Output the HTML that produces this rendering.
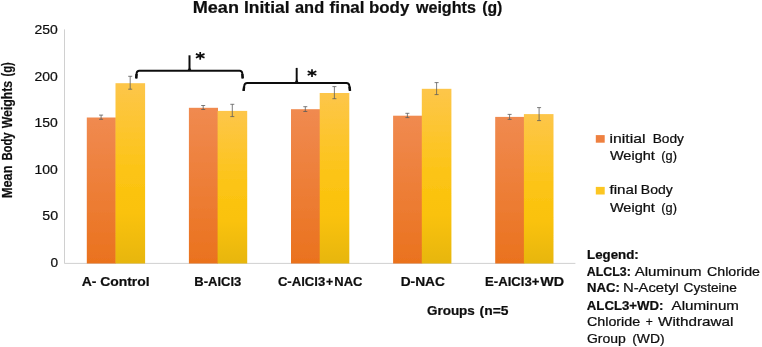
<!DOCTYPE html>
<html><head><meta charset="utf-8">
<style>
html,body{margin:0;padding:0;background:#fff;}
body{width:762px;height:347px;overflow:hidden;font-family:"Liberation Sans",sans-serif;}
svg{display:block;}
text{font-family:"Liberation Sans",sans-serif;fill:#0c0c0c;stroke:#0c0c0c;stroke-width:0.2px;}
.b{font-weight:bold;}
</style></head><body>
<svg width="762" height="347" viewBox="0 0 762 347">
<defs>
<linearGradient id="go" x1="0" y1="0" x2="0" y2="1">
<stop offset="0" stop-color="#f08a50"/><stop offset="1" stop-color="#ea721e"/>
</linearGradient>
<linearGradient id="gy" x1="0" y1="0" x2="0" y2="1">
<stop offset="0" stop-color="#fdc64a"/><stop offset="0.5" stop-color="#fcc414"/><stop offset="0.72" stop-color="#fac20c"/><stop offset="1" stop-color="#e7b60e"/>
</linearGradient>
<filter id="bl"><feGaussianBlur stdDeviation="0.45"/></filter>
</defs>
<rect width="762" height="347" fill="#fff"/>
<g filter="url(#bl)">
<!-- axes -->
<line x1="64.5" y1="29.4" x2="64.5" y2="263.5" stroke="#d0d0d0" stroke-width="1"/>
<line x1="64.5" y1="263.4" x2="575.4" y2="263.4" stroke="#d0d0d0" stroke-width="1"/>
<!-- bars -->
<g>
<rect x="86.8" y="117.5" width="29.1" height="146" fill="url(#go)"/>
<rect x="115.5" y="83.2" width="29.6" height="180.3" fill="url(#gy)"/>
<rect x="188.9" y="107.8" width="29.1" height="155.7" fill="url(#go)"/>
<rect x="217.6" y="110.9" width="29.6" height="152.6" fill="url(#gy)"/>
<rect x="291" y="109.2" width="29.1" height="154.3" fill="url(#go)"/>
<rect x="319.7" y="93" width="29.6" height="170.5" fill="url(#gy)"/>
<rect x="393.1" y="115.7" width="29.1" height="147.8" fill="url(#go)"/>
<rect x="421.8" y="88.8" width="29.6" height="174.7" fill="url(#gy)"/>
<rect x="495.2" y="116.9" width="29.1" height="146.6" fill="url(#go)"/>
<rect x="523.9" y="114.1" width="29.6" height="149.4" fill="url(#gy)"/>
</g>
<!-- error bars -->
<g stroke="#5c5c5c" stroke-width="0.8" fill="none">
<path d="M101.1 115.1V119.3M99.1 115.1h4.0M99.1 119.3h4.0"/>
<path d="M130.2 76.3V89.2M128.2 76.3h4.0M128.2 89.2h4.0"/>
<path d="M203.2 105.5V109.5M201.2 105.5h4.0M201.2 109.5h4.0"/>
<path d="M232.3 104.3V116.6M230.3 104.3h4.0M230.3 116.6h4.0"/>
<path d="M305.3 106.7V111.5M303.3 106.7h4.0M303.3 111.5h4.0"/>
<path d="M334.4 86.6V98.7M332.4 86.6h4.0M332.4 98.7h4.0"/>
<path d="M407.4 113.3V117.6M405.4 113.3h4.0M405.4 117.6h4.0"/>
<path d="M436.6 82.6V94.6M434.6 82.6h4.0M434.6 94.6h4.0"/>
<path d="M509.6 114.4V119.4M507.6 114.4h4.0M507.6 119.4h4.0"/>
<path d="M539.1 107.6V120.6M537.1 107.6h4.0M537.1 120.6h4.0"/>
</g>
<!-- brackets -->
<g stroke="#0c0c0c" stroke-width="1.95" fill="none" stroke-linecap="butt" stroke-linejoin="round">
<path d="M136.2 78.3L136.6 73.4Q136.8 70.7 139.3 70.7H239.6Q242.1 70.7 242.3 73.4L242.7 78.3"/>
<path d="M189.5 70.7V55.3"/>
<path d="M243.6 90.8L244.2 86Q244.5 82.9 247.2 82.9H346.4Q349.1 82.9 349.4 86L350 90.8"/>
<path d="M296.7 82.9V67.9"/>
</g>
<g stroke="#0c0c0c" stroke-width="2.4" fill="none" stroke-linecap="butt">
<path d="M136.2 78.3L136.55 74"/><path d="M242.7 78.3L242.35 74"/>
<path d="M243.6 90.8L244.1 86.6"/><path d="M350 90.8L349.5 86.6"/>
</g>
<g fill="#0c0c0c" stroke="none">
<path d="M186.5 70.7Q189 70 189.5 65Q190 70 192.5 70.7Z"/>
<path d="M293.7 82.9Q296.2 82.2 296.7 77Q297.2 82.2 299.7 82.9Z"/>
</g>
<!-- asterisks -->
<g stroke="#111" stroke-width="1.7" stroke-linecap="butt">
<path d="M200.2 51.9V59.7M195.9 53.9L204.5 57.7M195.9 57.7L204.5 53.9"/>
<path d="M312 69.2V77.0M307.7 71.2L316.3 75.0M307.7 75.0L316.3 71.2"/>
</g>
<!-- legend -->
<rect x="595.8" y="135.1" width="8.9" height="7.6" fill="#ee8040"/>
<rect x="595.8" y="186.9" width="8.9" height="7.6" fill="#fcc620"/>
<text class="b" x="192.76" y="12.55" font-size="15.8" textLength="46.19" lengthAdjust="spacingAndGlyphs">Mean</text>
<text class="b" x="244.00" y="12.55" font-size="15.8" textLength="45.53" lengthAdjust="spacingAndGlyphs">Initial</text>
<text class="b" x="295.00" y="12.55" font-size="15.8" textLength="29.17" lengthAdjust="spacingAndGlyphs">and</text>
<text class="b" x="329.60" y="12.55" font-size="15.8" textLength="34.82" lengthAdjust="spacingAndGlyphs">final</text>
<text class="b" x="369.03" y="12.55" font-size="15.8" textLength="40.24" lengthAdjust="spacingAndGlyphs">body</text>
<text class="b" x="415.92" y="12.55" font-size="15.8" textLength="59.96" lengthAdjust="spacingAndGlyphs">weights</text>
<text class="b" x="482.20" y="12.55" font-size="15.8" textLength="20.16" lengthAdjust="spacingAndGlyphs">(g)</text>
<text x="34.40" y="34.1" font-size="12.4" textLength="23.28" lengthAdjust="spacingAndGlyphs">250</text>
<text x="34.40" y="80.6" font-size="12.4" textLength="23.28" lengthAdjust="spacingAndGlyphs">200</text>
<text x="34.40" y="127.1" font-size="12.4" textLength="23.28" lengthAdjust="spacingAndGlyphs">150</text>
<text x="34.40" y="173.7" font-size="12.4" textLength="23.28" lengthAdjust="spacingAndGlyphs">100</text>
<text x="42.30" y="220.2" font-size="12.4" textLength="15.78" lengthAdjust="spacingAndGlyphs">50</text>
<text x="50.50" y="266.8" font-size="12.4" textLength="7.58" lengthAdjust="spacingAndGlyphs">0</text>
<text class="b" x="81.70" y="285.7" font-size="12.9" textLength="14.72" lengthAdjust="spacingAndGlyphs">A-</text>
<text class="b" x="100.20" y="285.7" font-size="12.9" textLength="49.43" lengthAdjust="spacingAndGlyphs">Control</text>
<text class="b" x="194.30" y="285.7" font-size="12.9" textLength="46.97" lengthAdjust="spacingAndGlyphs">B-AlCl3</text>
<text class="b" x="277.90" y="285.7" font-size="12.9" textLength="47.37" lengthAdjust="spacingAndGlyphs">C-AlCl3</text>
<text class="b" x="326.00" y="285.7" font-size="12.9" textLength="7.21" lengthAdjust="spacingAndGlyphs">+</text>
<text class="b" x="334.30" y="285.7" font-size="12.9" textLength="28.21" lengthAdjust="spacingAndGlyphs">NAC</text>
<text class="b" x="400.70" y="285.7" font-size="12.9" textLength="44.23" lengthAdjust="spacingAndGlyphs">D-NAC</text>
<text class="b" x="485.10" y="285.7" font-size="12.9" textLength="54.34" lengthAdjust="spacingAndGlyphs">E-AlCl3+</text>
<text class="b" x="540.20" y="285.7" font-size="12.9" textLength="23.84" lengthAdjust="spacingAndGlyphs">WD</text>
<text class="b" x="426.90" y="314.8" font-size="12.9" textLength="47.98" lengthAdjust="spacingAndGlyphs">Groups</text>
<text class="b" x="479.60" y="314.8" font-size="12.9" textLength="28.88" lengthAdjust="spacingAndGlyphs">(n=5</text>
<text x="609.50" y="142.7" font-size="12.2" textLength="35.92" lengthAdjust="spacingAndGlyphs">initial</text>
<text x="652.67" y="142.7" font-size="12.2" textLength="31.31" lengthAdjust="spacingAndGlyphs">Body</text>
<text x="609.90" y="159.8" font-size="12.2" textLength="44.97" lengthAdjust="spacingAndGlyphs">Weight</text>
<text x="661.30" y="159.8" font-size="12.2" textLength="15.66" lengthAdjust="spacingAndGlyphs">(g)</text>
<text x="609.50" y="194.3" font-size="12.2" textLength="27.78" lengthAdjust="spacingAndGlyphs">final</text>
<text x="640.85" y="194.3" font-size="12.2" textLength="31.91" lengthAdjust="spacingAndGlyphs">Body</text>
<text x="609.90" y="211.5" font-size="12.2" textLength="44.97" lengthAdjust="spacingAndGlyphs">Weight</text>
<text x="661.30" y="211.5" font-size="12.2" textLength="15.66" lengthAdjust="spacingAndGlyphs">(g)</text>
<text class="b" x="587.00" y="258.5" font-size="12.2" textLength="51.76" lengthAdjust="spacingAndGlyphs">Legend:</text>
<text class="b" x="586.80" y="275.6" font-size="12.2" textLength="43.97" lengthAdjust="spacingAndGlyphs">ALCL3:</text>
<text x="634.70" y="275.6" font-size="12.2" textLength="66.89" lengthAdjust="spacingAndGlyphs">Aluminum</text>
<text x="707.00" y="275.6" font-size="12.2" textLength="52.94" lengthAdjust="spacingAndGlyphs">Chloride</text>
<text class="b" x="587.00" y="292.4" font-size="12.2" textLength="32.84" lengthAdjust="spacingAndGlyphs">NAC:</text>
<text x="622.99" y="292.4" font-size="12.2" textLength="55.87" lengthAdjust="spacingAndGlyphs">N-Acetyl</text>
<text x="683.60" y="292.4" font-size="12.2" textLength="53.25" lengthAdjust="spacingAndGlyphs">Cysteine</text>
<text class="b" x="586.80" y="309.5" font-size="12.2" textLength="76.65" lengthAdjust="spacingAndGlyphs">ALCL3+WD:</text>
<text x="671.60" y="309.5" font-size="12.2" textLength="67.39" lengthAdjust="spacingAndGlyphs">Aluminum</text>
<text x="586.90" y="326.3" font-size="12.2" textLength="53.34" lengthAdjust="spacingAndGlyphs">Chloride</text>
<text x="645.70" y="326.3" font-size="12.2" textLength="7.02" lengthAdjust="spacingAndGlyphs">+</text>
<text x="658.10" y="326.3" font-size="12.2" textLength="75.28" lengthAdjust="spacingAndGlyphs">Withdrawal</text>
<text x="586.90" y="343.2" font-size="12.2" textLength="38.85" lengthAdjust="spacingAndGlyphs">Group</text>
<text x="632.20" y="343.2" font-size="12.2" textLength="32.47" lengthAdjust="spacingAndGlyphs">(WD)</text>
<text class="b" font-size="14" transform="translate(12.1 198.1) rotate(-90)" x="0.00" textLength="32.60" lengthAdjust="spacingAndGlyphs">Mean</text>
<text class="b" font-size="14" transform="translate(12.1 198.1) rotate(-90)" x="37.50" textLength="28.23" lengthAdjust="spacingAndGlyphs">Body</text>
<text class="b" font-size="14" transform="translate(12.1 198.1) rotate(-90)" x="69.80" textLength="47.51" lengthAdjust="spacingAndGlyphs">Weights</text>
<text class="b" font-size="14" transform="translate(12.1 198.1) rotate(-90)" x="121.50" textLength="14.33" lengthAdjust="spacingAndGlyphs">(g)</text>
</g>
</svg>
</body></html>
